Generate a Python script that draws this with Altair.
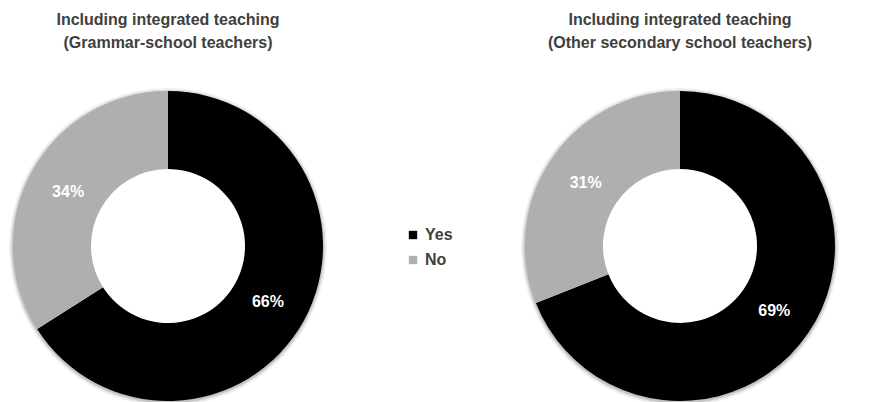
import altair as alt
import pandas as pd

panels = ["Grammar-school teachers", "Other secondary school teachers"]
categories = ["Yes", "No"]
yes_values = [66, 69]
no_values = [34, 31]
title_line1 = ["Including integrated teaching", "Including integrated teaching"]
title_line2 = ["(Grammar-school teachers)", "(Other secondary school teachers)"]
colors = ["#000000", "#afafaf"]

rows = []
for p, y, n in zip(panels, yes_values, no_values):
    rows.append({"panel": p, "category": "Yes", "value": y, "order": 0, "label": f"{y}%"})
    rows.append({"panel": p, "category": "No", "value": n, "order": 1, "label": f"{n}%"})
df = pd.DataFrame(rows)

centers_x = [168, 680]
center_y = 246
R_OUT = 155
R_IN = 77
R_LAB = 114

color_scale = alt.Scale(domain=categories, range=colors)
TITLE_FONT = "Liberation Sans"

layers = []
for i, p in enumerate(panels):
    base = alt.Chart(df).transform_filter(alt.datum.panel == p)
    # soft shadow rings
    for r_add, op in [(4, 0.05), (2.5, 0.08), (1.2, 0.12)]:
        layers.append(
            base.transform_filter(alt.datum.order == 0).mark_arc(
                theta=0, theta2=6.2832, radius=R_OUT + r_add, radius2=R_OUT - 2,
                color="#000000", opacity=op, stroke=None
            ).encode(x=alt.value(centers_x[i]), y=alt.value(center_y + 1))
        )
    arc = base.mark_arc(radius=R_OUT, radius2=R_IN, stroke=None).encode(
        theta=alt.Theta("value:Q", stack=True),
        order=alt.Order("order:Q"),
        color=alt.Color(
            "category:N",
            scale=color_scale,
            legend=alt.Legend(
                title=None,
                orient="none",
                legendX=405,
                legendY=227,
                symbolType="square",
                symbolSize=70,
                symbolStrokeWidth=0,
                labelFontSize=16,
                labelFontWeight="bold",
                labelFont="Liberation Sans",
                labelColor="#404040",
                rowPadding=9,
                symbolOffset=0,
            ) if i == 0 else None,
        ),
        x=alt.value(centers_x[i]),
        y=alt.value(center_y),
    )
    txt = base.mark_text(
        radius=R_LAB, font="Liberation Sans", fontSize=16, fontWeight="bold", color="white"
    ).encode(
        theta=alt.Theta("value:Q", stack=True),
        order=alt.Order("order:Q"),
        text="label:N",
        x=alt.value(centers_x[i]),
        y=alt.value(center_y + 1),
    )
    layers += [arc, txt]

tdf = pd.DataFrame({"l1": title_line1, "l2": title_line2, "cx": centers_x})
for i in range(2):
    tb = alt.Chart(tdf.iloc[[i]])
    t1 = tb.mark_text(font=TITLE_FONT, fontSize=16, fontWeight="bold", color="#404040").encode(
        text="l1:N", x=alt.value(centers_x[i]), y=alt.value(20))
    t2 = tb.mark_text(font=TITLE_FONT, fontSize=16, fontWeight="bold", color="#404040").encode(
        text="l2:N", x=alt.value(centers_x[i]), y=alt.value(43))
    layers += [t1, t2]

chart = alt.layer(*layers).resolve_scale(theta="independent").properties(
    width=874, height=402, padding=0, autosize="none", background="white"
).configure_view(stroke=None)

chart.save("out.html", embed_options={"renderer": "svg", "actions": False})
